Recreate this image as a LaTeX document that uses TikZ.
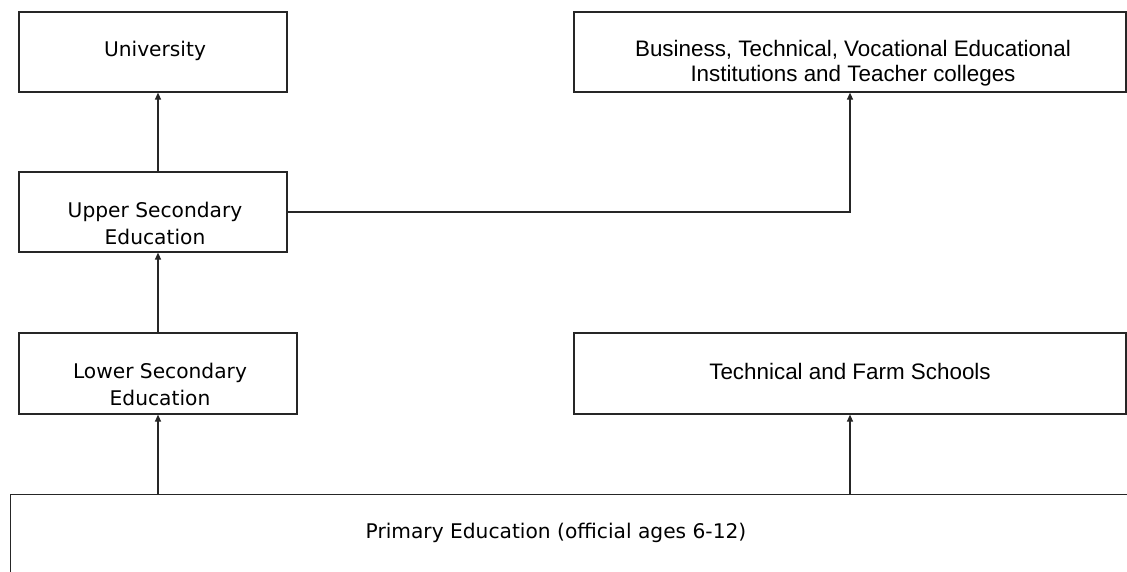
\documentclass[tikz,border=0pt]{standalone}
\usepackage{fontspec}
\newfontfamily\dejavu{DejaVu Sans}
\newfontfamily\libsans{Liberation Sans}
\usetikzlibrary{arrows.meta}
\begin{document}
\begin{tikzpicture}[x=1pt,y=-1pt,
  box/.style={draw=black!85, line width=1.2pt, inner sep=0pt},
  lt/.style={font=\dejavu\fontsize{20.2}{27}\selectfont, align=center, inner sep=0pt},
  rt/.style={font=\libsans\fontsize{22.4}{25}\selectfont, align=center, inner sep=0pt},
  arr/.style={draw=black!85, line width=1.2pt, -{Triangle[length=7pt,width=6pt]}}]
\useasboundingbox (0,0) rectangle (1127,571);
\clip (0,0) rectangle (1127,571);
% boxes
\node[box, minimum width=268, minimum height=80] (univ) at (153,52) {};
\node[box, minimum width=552, minimum height=80] (bus) at (850,52) {};
\node[box, minimum width=268, minimum height=80] (upper) at (153,212) {};
\node[box, minimum width=278, minimum height=81] (lower) at (158,373.5) {};
\node[box, minimum width=552, minimum height=81] (tech) at (850,373.5) {};
\node[box, anchor=north west, minimum width=1140, minimum height=100] (prim) at (10,494) {};
% texts
\node[lt] (univt) at (155,51) {University};
\node[rt] (bust) at (853,63) {Business, Technical, Vocational Educational\\Institutions and Teacher colleges};
\node[lt] (uppert) at (155,223) {Upper Secondary\\Education};
\node[lt] (lowert) at (160,384) {Lower Secondary\\Education};
\node[rt] (techt) at (850,371) {Technical and Farm Schools};
\node[lt] (primt) at (556,533) {Primary Education (official ages 6-12)};
% connectors
\draw[arr] (upper.north -| lower.north) -- (univ.south -| lower.north);
\draw[arr] (lower.north) -- (upper.south -| lower.north);
\draw[arr] (prim.north -| lower.south) -- (lower.south);
\draw[arr] (prim.north -| tech.south) -- (tech.south);
\draw[arr] (upper.east) -| (bus.south);
\end{tikzpicture}
\end{document}
